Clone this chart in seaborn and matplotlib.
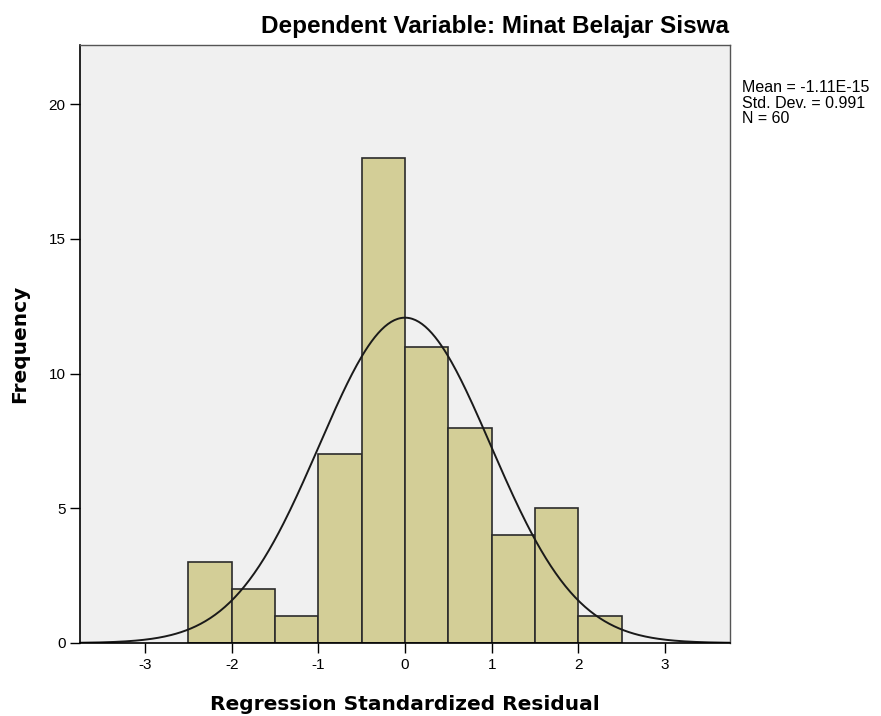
import numpy as np
import pandas as pd
import matplotlib
matplotlib.use("Agg")
import matplotlib.pyplot as plt
import seaborn as sns

# Data
bin_edges = [-2.5, -2.0, -1.5, -1.0, -0.5, 0.0, 0.5, 1.0, 1.5, 2.0, 2.5]
counts = [3, 2, 1, 7, 18, 11, 8, 4, 5, 1]
mean_val = -1.11e-15
std_val = 0.991
n_val = 60
x_ticks = [-3, -2, -1, 0, 1, 2, 3]
y_ticks = [0, 5, 10, 15, 20]

sns.set_style("ticks")
plt.rcParams['font.family'] = ['Liberation Sans', 'DejaVu Sans']
plt.rcParams['text.color'] = 'black'
plt.rcParams['axes.labelcolor'] = 'black'
plt.rcParams['xtick.color'] = 'black'
plt.rcParams['ytick.color'] = 'black'

fig = plt.figure(figsize=(8.81, 7.16), dpi=100)
ax = fig.add_axes([80/881, 73/716, 650/881, 598/716])
ax.set_facecolor("#F0F0F0")

centers = [(bin_edges[i] + bin_edges[i+1]) / 2 for i in range(len(counts))]
df = pd.DataFrame({"resid": centers, "count": counts})
sns.histplot(data=df, x="resid", weights="count", bins=bin_edges, ax=ax,
             color="#D3CE97", alpha=1, edgecolor="#2b2b2b", linewidth=1.2)

width = bin_edges[1] - bin_edges[0]
xs = np.linspace(-3.75, 3.75, 400)
ys = n_val * width / (std_val * np.sqrt(2 * np.pi)) * np.exp(-0.5 * ((xs - mean_val) / std_val) ** 2)
sns.lineplot(x=xs, y=ys, ax=ax, color="#1a1a1a", linewidth=1.4)

ax.set_xlim(-3.75, 3.75)
ax.set_ylim(0, 22.2)
ax.set_xticks(x_ticks)
ax.set_xticklabels([str(t) for t in x_ticks])
ax.set_yticks(y_ticks)
ax.tick_params(axis='both', direction='out', length=7, width=1, labelsize=11,
               colors='#000000', labelcolor='#000000')
ax.tick_params(axis='x', pad=4)

for side in ['left', 'bottom']:
    ax.spines[side].set_color('#000000')
    ax.spines[side].set_linewidth(1.2)
for side in ['top', 'right']:
    ax.spines[side].set_visible(True)
    ax.spines[side].set_color('#555555')
    ax.spines[side].set_linewidth(1.0)

ax.set_xlabel("Regression Standardized Residual", fontsize=14.5, fontweight='bold',
              family='DejaVu Sans', labelpad=16, color='black')
ax.set_ylabel("Frequency", fontsize=14.5, fontweight='bold',
              family='DejaVu Sans', labelpad=14, color='black')

fig.text(729/881, 1 - 27/716, "Dependent Variable: Minat Belajar Siswa",
         ha='right', va='center', fontsize=17.5, fontweight='bold', color='black')

fig.text(742/881, 1 - 80/716,
         "Mean = -1.11E-15\nStd. Dev. = 0.991\nN = 60",
         ha='left', va='top', fontsize=11.5, linespacing=1.05, color='black')

fig.savefig("out.png", dpi=100, facecolor='white')
